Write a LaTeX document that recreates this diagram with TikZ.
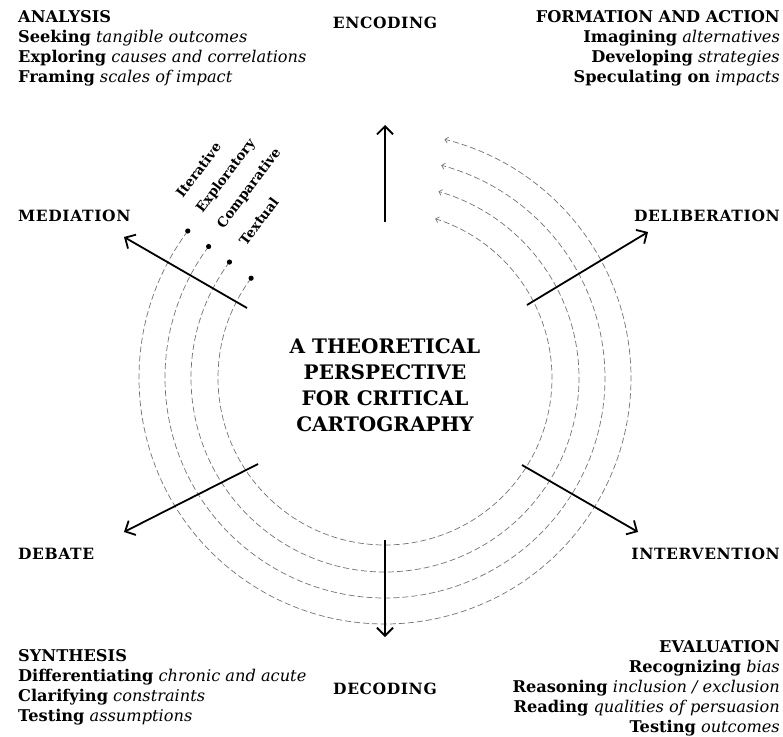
\documentclass[tikz,border=0pt]{standalone}
\usepackage{fontspec}
\setmainfont{DejaVu Serif}
\usetikzlibrary{arrows.meta,calc}

\begin{document}
\begin{tikzpicture}[x=1pt,y=1pt,
	arcline/.style={draw=black!55,line width=.7pt,dash pattern=on 6pt off 3pt,-{Straight Barb[length=3pt,width=6pt]}},
	axis/.style={line width=1.8pt,-{Straight Barb[length=8pt,width=16pt]}},
	head/.style={font=\fontsize{15.5}{20}\selectfont\bfseries\addfontfeature{LetterSpace=4},inner sep=0pt},
	block/.style={font=\fontsize{16.2}{20}\selectfont,inner sep=0pt},
	tag/.style={font=\fontsize{13.5}{15}\selectfont\bfseries,rotate=53,anchor=west,inner sep=0pt}]
				\useasboundingbox (-385,-358) rectangle (398,378);
				
				% dashed rings
				\draw[arcline] (143.3:246) arc[start angle=143.3,end angle=436,radius=246];
				\draw[arcline] (143.3:220) arc[start angle=143.3,end angle=435.2,radius=220];
				\draw[arcline] (143.3:194) arc[start angle=143.3,end angle=434,radius=194];
				\draw[arcline] (143.3:167) arc[start angle=143.3,end angle=432.5,radius=167];
				
				\coordinate (d1) at (143.3:246);
				\coordinate (d2) at (143.3:220);
				\coordinate (d3) at (143.3:194);
				\coordinate (d4) at (143.3:167);
				\fill (d1) circle (2.6);
				\fill (d2) circle (2.6);
				\fill (d3) circle (2.6);
				\fill (d4) circle (2.6);
				
				\node[tag] (iter) at ($(d1)+(-9,35)$) {Iterative};
				\node[tag] (expl) at ($(d2)+(-9,35)$) {Exploratory};
				\node[tag] (comp) at ($(d3)+(-9,35)$) {Comparative};
				\node[tag] (text) at ($(d4)+(-9,35)$) {Textual};
				
				% the six directions
				\coordinate (enc0) at (0,156);    \coordinate (enc1) at (0,253);
				\coordinate (dec0) at (0,-162);   \coordinate (dec1) at (0,-259);
				\coordinate (med0) at (-138,70);  \coordinate (med1) at (-261,141);
				\coordinate (del0) at (142,73);   \coordinate (del1) at (263,146);
				\coordinate (int0) at (137,-87);  \coordinate (int1) at (253,-154);
				\coordinate (deb0) at (-127,-86); \coordinate (deb1) at (-261,-154);
				
				\draw[axis] (enc0)--(enc1);
				\draw[axis] (dec0)--(dec1);
				\draw[axis] (med0)--(med1);
				\draw[axis] (del0)--(del1);
				\draw[axis] (int0)--(int1);
				\draw[axis] (deb0)--(deb1);
				
				\node[head,anchor=base] (encoding) at (0,349) {ENCODING};
				\node[head,anchor=base] (decoding) at (0,-316) {DECODING};
				\node[head,anchor=base west] (mediation) at (-367,156) {MEDIATION};
				\node[head,anchor=base east] (deliberation) at (395,156) {DELIBERATION};
				\node[head,anchor=base west] (debate) at (-367,-181) {DEBATE};
				\node[head,anchor=base east] (intervention) at (395,-181) {INTERVENTION};
				
				\node[font=\fontsize{20}{26}\selectfont\bfseries,align=center] (title) at (0,-7)
					{A THEORETICAL\\PERSPECTIVE\\FOR CRITICAL\\CARTOGRAPHY};
				
				% corner blocks
				\node[block,align=left,anchor=north west] (analysis) at (-367,368)
					{\textbf{ANALYSIS}\\\textbf{Seeking} \textit{tangible outcomes}\\\textbf{Exploring} \textit{causes and correlations}\\\textbf{Framing} \textit{scales of impact}};
				\node[block,align=right,anchor=north east] (formation) at (395,368)
					{\textbf{FORMATION AND ACTION}\\\textbf{Imagining} \textit{alternatives}\\\textbf{Developing} \textit{strategies}\\\textbf{Speculating on} \textit{impacts}};
				\node[block,align=left,anchor=north west] (synthesis) at (-367,-271)
					{\textbf{SYNTHESIS}\\\textbf{Differentiating} \textit{chronic and acute}\\\textbf{Clarifying} \textit{constraints}\\\textbf{Testing} \textit{assumptions}};
				\node[block,align=right,anchor=north east] (evaluation) at (395,-262)
					{\textbf{EVALUATION}\\\textbf{Recognizing} \textit{bias}\\\textbf{Reasoning} \textit{inclusion / exclusion}\\\textbf{Reading} \textit{qualities of persuasion}\\\textbf{Testing} \textit{outcomes}};
				
			\end{tikzpicture}
\end{document}
